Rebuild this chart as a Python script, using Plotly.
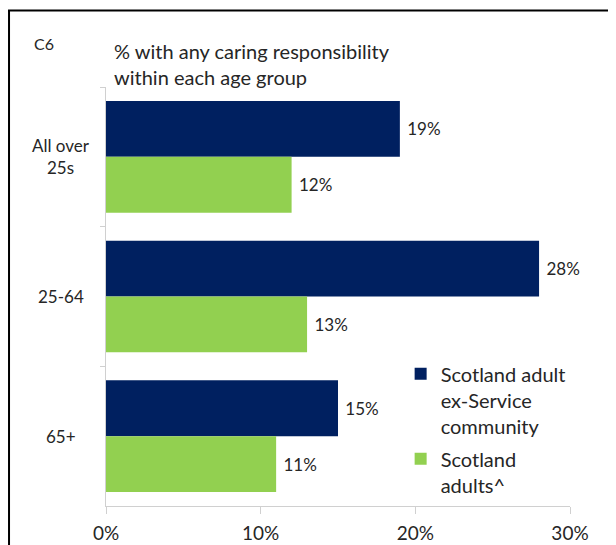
import plotly.graph_objects as go

categories = ["All over<br>25s", "25-64", "65+"]
series_names = ["Scotland adult<br>ex-Service<br>community", "Scotland<br>adults^"]
ex_service = [19, 28, 15]
scotland_adults = [12, 13, 11]
x_ticks = [0, 10, 20, 30]
x_tick_labels = ["0%", "10%", "20%", "30%"]

NAVY = "#002060"
GREEN = "#92D050"
TEXT = "#262626"
AXIS = "#d0d0d0"
FONT = "Lato, 'Open Sans', sans-serif"

fig = go.Figure()
for i, (name, vals, col) in enumerate([(series_names[0], ex_service, NAVY),
                                       (series_names[1], scotland_adults, GREEN)]):
    fig.add_trace(go.Bar(
        y=categories, x=vals, name=name, orientation="h", legendgroup=f"g{i}",
        marker=dict(color=col, line=dict(width=0)),
        texttemplate="\u00a0%{x}%", textposition="outside",
        textfont=dict(size=17, color=TEXT, family=FONT),
        cliponaxis=False,
    ))

# category labels (centred, multi-line)
for c in categories:
    fig.add_annotation(x=-0.097, xref="paper", y=c, yref="y", text=c,
                       showarrow=False, xanchor="center", yanchor="middle",
                       align="center", font=dict(size=17, color=TEXT, family=FONT))

# chart id and subtitle
fig.add_annotation(x=-0.16, xref="paper", y=1.104, yref="paper", text="C6",
                   showarrow=False, xanchor="left", yanchor="middle",
                   font=dict(size=16, color=TEXT, family=FONT))
fig.add_annotation(x=0.012, xref="paper", y=1.12, yref="paper",
                   text="% with any caring responsibility<br>within each age group",
                   showarrow=False, xanchor="left", yanchor="top", align="left",
                   font=dict(size=20, color=TEXT, family=FONT))

# frame
fig.add_shape(type="rect", xref="paper", yref="paper",
              x0=-0.209, x1=1.2, y0=-0.2, y1=1.1826,
              line=dict(color="black", width=2), fillcolor="rgba(0,0,0,0)")

fig.update_layout(
    width=616, height=545,
    margin=dict(l=98, r=54, t=79, b=47),
    paper_bgcolor="white", plot_bgcolor="white",
    barmode="group", bargap=0.2, bargroupgap=0,
    font=dict(family=FONT, color=TEXT, size=17),
    showlegend=True,
    legend=dict(x=0.635, y=0.362, xanchor="left", yanchor="top",
                valign="top", tracegroupgap=4, itemwidth=30,
                font=dict(size=20, color=TEXT, family=FONT),
                bgcolor="rgba(0,0,0,0)"),
    xaxis=dict(range=[0, 30], tickvals=x_ticks, ticktext=x_tick_labels,
               showgrid=False, zeroline=False, showline=True, linecolor=AXIS,
               linewidth=1, ticks="outside", ticklen=7, tickcolor=AXIS,
               ticklabelstandoff=3, automargin=False,
               tickfont=dict(size=19, color=TEXT, family=FONT)),
    yaxis=dict(autorange="reversed", showticklabels=False, showgrid=False,
               zeroline=False, showline=True, linecolor=AXIS, linewidth=1,
               ticks="outside", ticklen=5, tickcolor=AXIS,
               tickson="boundaries", automargin=False),
)

fig.write_html("out.html")
